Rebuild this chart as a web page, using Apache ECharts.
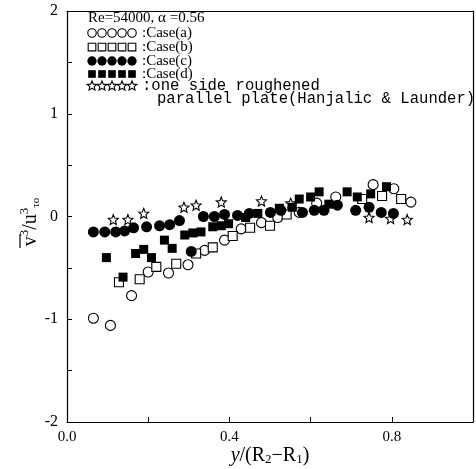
<!DOCTYPE html>
<html><head><meta charset="utf-8">
<script src="https://cdn.jsdelivr.net/npm/echarts@6/dist/echarts.min.js"></script>
<style>html,body{margin:0;padding:0;background:#fff}#c{width:476px;height:469px}</style>
</head><body><div id="c"></div>
<script>
// ---- data ----
const caseA = [[0.065,-0.99],[0.107,-1.06],[0.159,-0.77],[0.200,-0.54],[0.250,-0.55],[0.298,-0.47],[0.339,-0.33],[0.388,-0.23],[0.429,-0.12],[0.479,-0.06],[0.519,-0.01],[0.572,0.04],[0.615,0.13],[0.662,0.19],[0.754,0.31],[0.805,0.27],[0.847,0.14]];
const caseB = [[0.128,-0.64],[0.179,-0.61],[0.220,-0.49],[0.269,-0.46],[0.318,-0.36],[0.359,-0.30],[0.408,-0.19],[0.451,-0.11],[0.500,-0.09],[0.541,0.02],[0.727,0.17],[0.776,0.20],[0.823,0.17]];
const caseC = [[0.065,-0.15],[0.093,-0.15],[0.120,-0.15],[0.142,-0.14],[0.164,-0.11],[0.196,-0.10],[0.228,-0.09],[0.253,-0.08],[0.277,-0.04],[0.306,-0.34],[0.336,0.00],[0.363,0.00],[0.388,0.02],[0.420,0.01],[0.449,0.03],[0.501,0.04],[0.527,0.06],[0.580,0.04],[0.609,0.06],[0.633,0.06],[0.666,0.11],[0.711,0.06],[0.744,0.09],[0.774,0.04],[0.804,0.03]];
const caseD = [[0.097,-0.40],[0.138,-0.59],[0.169,-0.36],[0.189,-0.32],[0.208,-0.40],[0.240,-0.23],[0.259,-0.31],[0.290,-0.18],[0.310,-0.16],[0.330,-0.15],[0.359,-0.10],[0.380,-0.09],[0.398,-0.07],[0.440,-0.01],[0.470,0.03],[0.523,0.08],[0.555,0.09],[0.572,0.17],[0.600,0.19],[0.621,0.24],[0.645,0.12],[0.690,0.24],[0.715,0.19],[0.748,0.22],[0.787,0.29]];
const hanjalic = [[0.114,-0.03],[0.150,-0.03],[0.189,0.03],[0.288,0.09],[0.318,0.11],[0.380,0.14],[0.479,0.15],[0.551,0.13],[0.744,-0.01],[0.797,-0.02],[0.838,-0.03]];
const xTickLabels = ['0.0','0.4','0.8'];
const yTickLabels = ['-2','-1','0','1','2'];
const legendLabels = [':Case(a)', ':Case(b)', ':Case(c)', ':Case(d)'];
const titleText = 'Re=54000, \u03b1 =0.56';
const refLine1 = ':one side roughened';
const refLine2 = 'parallel plate(Hanjalic & Launder)';

// ---- styling ----
function starPts(cx, cy, R){
  const p = [];
  for (let i=0;i<10;i++){
    const r = i%2===0 ? R : R*0.45;
    const a = -Math.PI/2 + i*Math.PI/5;
    p.push([cx + r*Math.cos(a), cy + r*Math.sin(a)]);
  }
  return p;
}
const STAR = 'path://' + starPts(0,0,1).map((q,i)=>(i===0?'M':'L')+q[0].toFixed(3)+' '+q[1].toFixed(3)).join(' ') + ' Z';
const serif = '"Liberation Serif","DejaVu Serif",serif';
const openStyle = {color:'#fff', borderColor:'#000', borderWidth:1.1, opacity:1};
const fillStyle = {color:'#000', opacity:1};

const chart = echarts.init(document.getElementById('c'), null, {renderer:'canvas'});

const markers = [
  {symbol:'circle', size:10, style:openStyle},
  {symbol:'rect', size:9, style:openStyle},
  {symbol:'circle', size:11, style:fillStyle},
  {symbol:'rect', size:9, style:fillStyle},
  {symbol:STAR, size:10, style:openStyle}
];

// legend graphics
const graphics = [];
graphics.push({type:'text', x:88, y:18, style:{text:titleText, font:'15px '+serif, fill:'#000', verticalAlign:'middle'}, z:10});
const rowY = [33, 47, 61, 74, 86];
for (let r=0;r<5;r++){
  for (let k=0;k<5;k++){
    const m = markers[r];
    const cx = 92 + k*10, cy = rowY[r];
    const s = m.size*0.85;
    let el;
    if (m.symbol==='circle') el = {type:'circle', shape:{cx:cx, cy:cy, r:s/2}};
    else if (m.symbol==='rect') el = {type:'rect', shape:{x:cx-s/2, y:cy-s/2, width:s, height:s}};
    else el = {type:'polygon', shape:{points:starPts(cx, cy, s/2+0.8)}};
    el.style = {fill:m.style.color, stroke:m.style.borderColor||null, lineWidth:m.style.borderWidth||0};
    el.z = 10;
    graphics.push(el);
  }
  if (r<4) graphics.push({type:'text', x:142, y:rowY[r], style:{text:legendLabels[r], font:'15px '+serif, fill:'#000', verticalAlign:'middle'}, z:10});
}
graphics.push({type:'text', x:142, y:86, style:{text:refLine1, font:'15.6px "Liberation Mono",monospace', fill:'#000', verticalAlign:'middle'}, z:10});
graphics.push({type:'text', x:157, y:99, style:{text:refLine2, font:'15.6px "Liberation Mono",monospace', fill:'#000', verticalAlign:'middle'}, z:10});

// y axis name (rotated)
graphics.push({
  type:'group', x:31, y:222, rotation:Math.PI/2,
  children:[
    {type:'text', x:0, y:0, style:{
      text:'{v|v}{sup|3}{sl|/}{v|u}{sup|3}{sub|\u03c4o}',
      align:'center', verticalAlign:'middle',
      rich:{
        v:{font:'20px '+serif},
        sl:{font:'20px '+serif},
        sup:{font:'13px '+serif, padding:[0,0,12,0]},
        sub:{font:'11px '+serif, padding:[10,0,0,0]}
      }
    }},
    {type:'line', shape:{x1:-26, y1:-11, x2:-12, y2:-11}, style:{stroke:'#000', lineWidth:1.2}}
  ]
});
// x axis name
graphics.push({type:'text', x:270, y:456, style:{
  text:'{i|y}{n|/(R}{s|2}{n|\u2212R}{s|1}{n|)}', align:'center', verticalAlign:'middle',
  rich:{ i:{font:'italic 20px '+serif}, n:{font:'20px '+serif}, s:{font:'13px '+serif, padding:[8,0,0,0]} }
}});

function scat(data, m, z){
  return {type:'scatter', data:data, symbol:m.symbol, symbolSize:m.size, itemStyle:m.style, z:z, silent:true, animation:false};
}

chart.setOption({
  animation:false,
  grid:{left:67, right:1, top:11, bottom:47, containLabel:false},
  xAxis:[{
    type:'value', min:0, max:1.0, interval:0.2,
    axisLine:{show:true, onZero:false, lineStyle:{color:'#000', width:1.2}},
    axisTick:{show:true, inside:true, length:5, lineStyle:{color:'#000'}},
    splitLine:{show:false},
    axisLabel:{color:'#000', fontFamily:'"Liberation Serif","DejaVu Serif",serif', fontSize:15, margin:8,
      formatter:function(v){ const s=v.toFixed(1); return xTickLabels.indexOf(s)>=0 ? s : ''; }}
  },{
    type:'value', position:'top', min:0, max:1.0, axisLine:{show:true, onZero:false, lineStyle:{color:'#000', width:1.2}},
    axisTick:{show:false}, axisLabel:{show:false}, splitLine:{show:false}
  }],
  yAxis:[{
    type:'value', min:-2, max:2, interval:0.5,
    axisLine:{show:true, onZero:false, lineStyle:{color:'#000', width:1.2}},
    axisTick:{show:true, inside:true, length:5, lineStyle:{color:'#000'}},
    splitLine:{show:false},
    axisLabel:{color:'#000', fontFamily:'"Liberation Serif","DejaVu Serif",serif', fontSize:16, margin:9,
      formatter:function(v){ const s=String(v); return yTickLabels.indexOf(s)>=0 ? s : ''; }}
  },{
    type:'value', position:'right', min:-2, max:2, interval:0.5,
    axisLine:{show:true, onZero:false, lineStyle:{color:'#000', width:1.2}},
    axisTick:{show:false}, axisLabel:{show:false}, splitLine:{show:false}
  }],
  series:[
    scat(hanjalic, markers[4], 2),
    scat(caseA, markers[0], 3),
    scat(caseB, markers[1], 3),
    scat(caseC, markers[2], 4),
    scat(caseD, markers[3], 4)
  ],
  graphic:graphics
});
</script></body></html>
